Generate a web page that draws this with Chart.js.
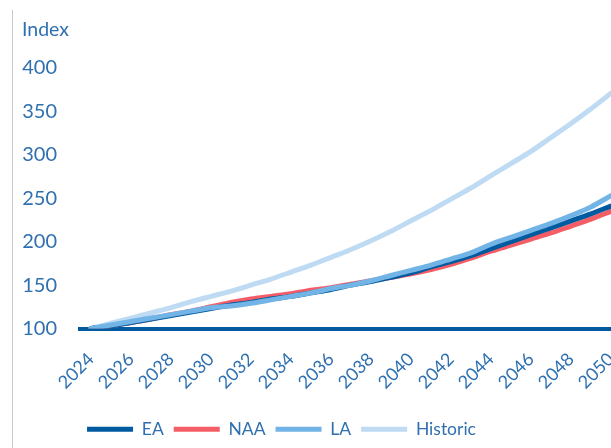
<!DOCTYPE html>
<html>
<head>
<meta charset="utf-8">
<script src="https://cdn.jsdelivr.net/npm/chart.js@4.4.1/dist/chart.umd.min.js"></script>
<style>
    html, body { margin: 0; padding: 0; background: #fff; }
    #frame { width: 611px; height: 448px; overflow: hidden; position: relative; }
    #wrap { width: 625px; height: 448px; position: relative; }
</style>
</head>
<body>
<div id="frame"><div id="wrap"><canvas id="indexChart"></canvas></div></div>
<script>
// Years 2024..2050 and index values (2024 = 100)
const years = [2024, 2025, 2026, 2027, 2028, 2029, 2030, 2031, 2032, 2033, 2034, 2035, 2036, 2037,
    2038, 2039, 2040, 2041, 2042, 2043, 2044, 2045, 2046, 2047, 2048, 2049, 2050];
const eaValues = [100, 103, 107, 111, 115, 119, 123, 127, 130, 134, 137, 141, 145, 150,
    154, 159, 164, 171, 177, 184, 192, 200, 208, 216, 224, 232, 241];
const naaValues = [100, 103, 107, 111, 116, 120, 125, 130, 134, 137, 140, 144, 147, 151,
    155, 159, 163, 168, 174, 181, 189, 196, 203, 210, 218, 226, 235];
const laValues = [100, 104, 108, 112, 116, 120, 124, 126, 129, 133, 137, 141, 146, 150,
    155, 161, 167, 173, 180, 187, 197, 205, 213, 221, 230, 240, 253];
const historicValues = [100, 106, 112, 118, 124, 131, 137, 143, 150, 157, 165, 173, 182, 191,
    201, 212, 224, 236, 249, 262, 276, 290, 304, 320, 336, 353, 371];
const tickYears = [2024, 2026, 2028, 2030, 2032, 2034, 2036, 2038, 2040, 2042, 2044, 2046, 2048, 2050];
const yTicks = [100, 150, 200, 250, 300, 350, 400];

const BLUE_TEXT = '#2f70b0';
const FONT = 'Lato, "Open Sans", sans-serif';

const toPoints = vals => vals.map((v, i) => ({ x: years[i], y: v }));

const series = [
    { label: 'EA', data: eaValues, color: '#005aa0', order: 1 },
    { label: 'NAA', data: naaValues, color: '#f45d66', order: 2 },
    { label: 'LA', data: laValues, color: '#72b4e6', order: 0 },
    { label: 'Historic', data: historicValues, color: '#bedbf3', order: 3 }
];

// "Index" label and the thin grey frame line on the left
const decorPlugin = {
    id: 'decor',
    afterLayout(chart) {
        // shift the legend left so it sits where the original one does
        chart.legend.left -= 24;
        chart.legend.right -= 24;
    },
    afterDraw(chart) {
        const c = chart.ctx;
        c.save();
        c.strokeStyle = '#c8c8c8';
        c.lineWidth = 1;
        c.beginPath();
        c.moveTo(12.5, 10);
        c.lineTo(12.5, 448);
        c.stroke();
        c.fillStyle = BLUE_TEXT;
        c.font = '19.5px ' + FONT;
        c.textBaseline = 'middle';
        c.fillText('Index', 22, 30);
        c.restore();
    }
};

new Chart(document.getElementById('indexChart'), {
    type: 'line',
    data: {
        datasets: series.map(s => ({
            label: s.label,
            data: toPoints(s.data),
            borderColor: s.color,
            backgroundColor: s.color,
            borderWidth: 5,
            borderCapStyle: 'round',
            pointRadius: 0,
            tension: 0.3,
            order: s.order
        }))
    },
    options: {
        responsive: true,
        maintainAspectRatio: false,
        animation: false,
        layout: { padding: { left: 0, top: 68, right: 14, bottom: 0 } },
        scales: {
            x: {
                type: 'linear',
                min: 2023.45,
                max: 2050,
                afterBuildTicks: scale => { scale.ticks = tickYears.map(v => ({ value: v })); },
                afterFit: scale => {
                    scale.paddingLeft = 0;
                    scale.paddingRight = 0;
                    scale.height = 82;
                },
                grid: { display: false, drawTicks: false },
                border: { display: true, color: '#005aa0', width: 4 },
                ticks: {
                    color: BLUE_TEXT,
                    font: { family: FONT, size: 18 },
                    minRotation: 45,
                    maxRotation: 45,
                    padding: 20,
                    callback: v => String(v)
                }
            },
            y: {
                min: 100,
                max: 400,
                afterBuildTicks: scale => { scale.ticks = yTicks.map(v => ({ value: v })); },
                afterFit: scale => { scale.width = 80; },
                grid: { display: false, drawTicks: false },
                border: { display: false },
                ticks: {
                    color: BLUE_TEXT,
                    font: { family: FONT, size: 20 },
                    padding: 23
                }
            }
        },
        plugins: {
            legend: {
                position: 'bottom',
                labels: {
                    color: BLUE_TEXT,
                    font: { family: FONT, size: 17.5 },
                    usePointStyle: true,
                    pointStyle: 'line',
                    pointStyleWidth: 46,
                    padding: 10,
                    sort: (a, b) => a.datasetIndex - b.datasetIndex
                }
            },
            tooltip: { enabled: false }
        }
    },
    plugins: [decorPlugin]
});
</script>
</body>
</html>
